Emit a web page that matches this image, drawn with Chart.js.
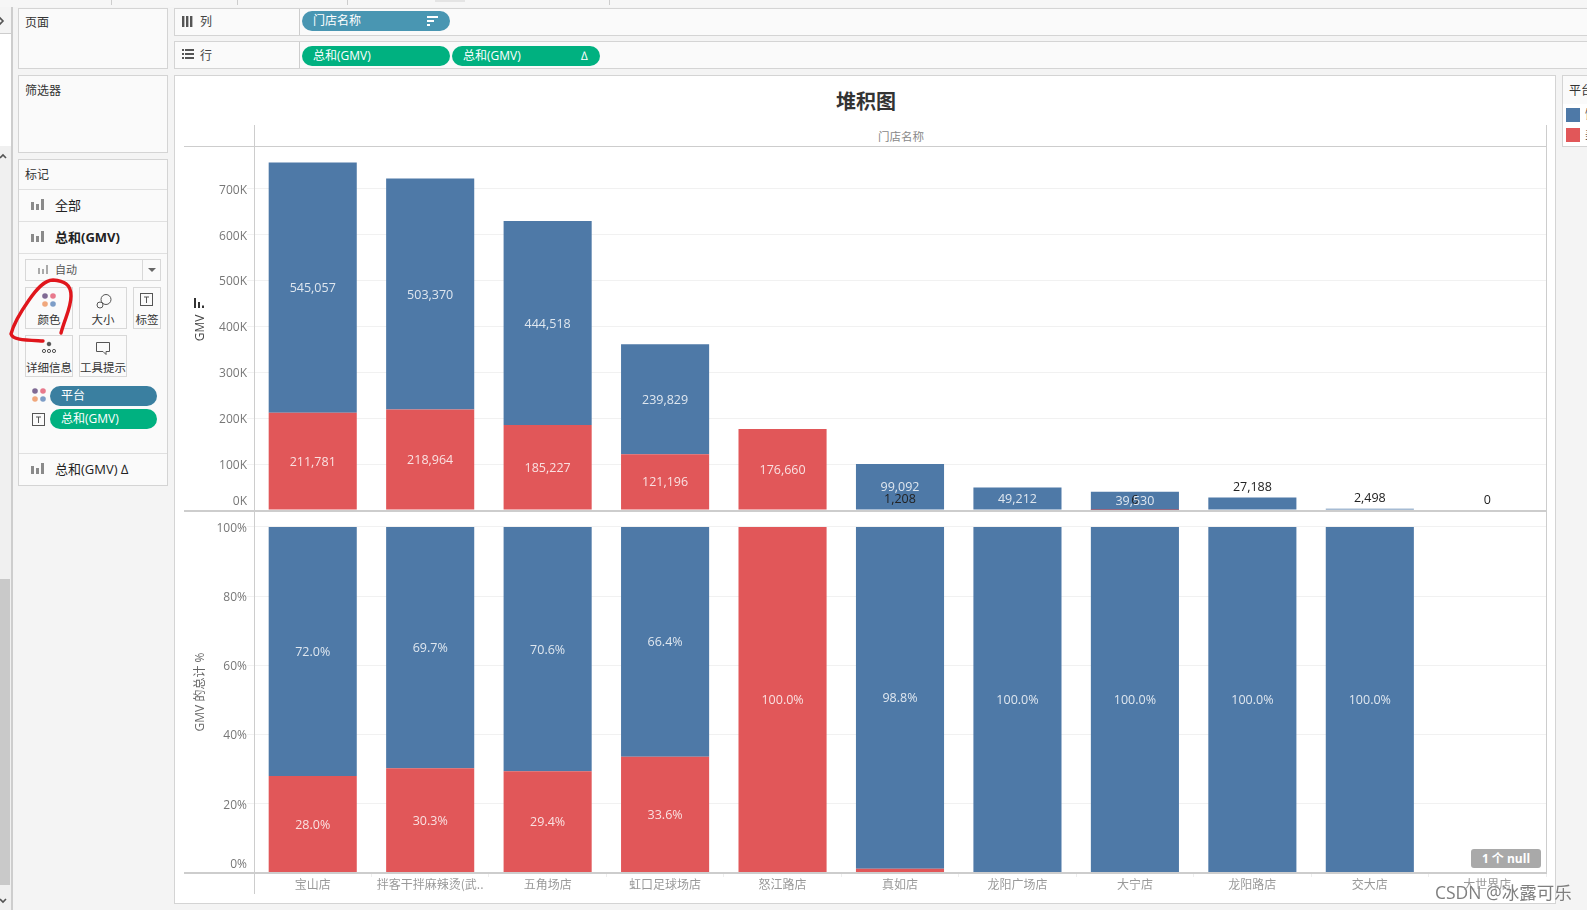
<!DOCTYPE html>
<html>
<head>
<meta charset="utf-8">
<script src="https://cdn.jsdelivr.net/npm/chart.js@4"></script>
<style>
html, body { margin: 0; width: 1587px; height: 910px; overflow: hidden; background: #f4f4f4;
    font-family: "Open Sans", "Noto Sans CJK SC", sans-serif; font-size: 12px; color: #333; }
.box { position: absolute; box-sizing: border-box; }
.panel { position: absolute; box-sizing: border-box; background: #fafafa; border: 1.5px solid #d4d4d4; }
.line { position: absolute; background: #cdcdcd; }
.txt { position: absolute; white-space: nowrap; line-height: 16px; }
.pill { position: absolute; box-sizing: border-box; height: 20px; line-height: 19px; border-radius: 10px;
    color: #fff; padding-left: 11px; white-space: nowrap; }
.btn { position: absolute; box-sizing: border-box; background: #fafafa; border: 1.5px solid #d8d8d8; text-align: center; }
.btn span { position: absolute; left: -4px; right: -4px; bottom: 1px; font-size: 11.5px; line-height: 14px; }
canvas { position: absolute; display: block; }
svg { position: absolute; overflow: visible; }
</style>
</head>
<body>
<!-- left strip -->
<div class="box" style="left:0;top:34px;width:11px;height:112px;background:#fff"></div>
<div class="box" style="left:0;top:146px;width:11px;height:764px;background:#f0f0f0"></div>
<div class="box" style="left:0;top:579px;width:10px;height:306px;background:#c9c9c9"></div>
<div class="line" style="left:11px;top:0;width:1.5px;height:910px"></div>
<div class="line" style="left:0;top:33px;width:11px;height:1px"></div>
<svg style="left:0;top:0" width="12" height="910" fill="none" stroke="#555" stroke-width="1.6">
    <path d="M-1 17l4 4 -4 4"/><path d="M0 158l3-3 3 3"/><path d="M0 899l3 3 3-3"/>
</svg>
<!-- top strip -->
<div class="box" style="left:0;top:0;width:1587px;height:7px;background:#f6f6f6"></div>
<div class="line" style="left:111px;top:0;width:1px;height:5px"></div>
<div class="line" style="left:237px;top:0;width:1px;height:5px"></div>
<div class="line" style="left:347px;top:0;width:1px;height:5px"></div>
<div class="line" style="left:609px;top:0;width:1px;height:5px"></div>
<div class="box" style="left:435px;top:0;width:30px;height:2px;background:#e4e4e4"></div>

<!-- pages / filters -->
<div class="panel" style="left:18px;top:8px;width:150px;height:61px"></div>
<div class="txt" style="left:25px;top:15px">页面</div>
<div class="panel" style="left:18px;top:75px;width:150px;height:78px"></div>
<div class="txt" style="left:25px;top:83px">筛选器</div>

<!-- marks card -->
<div class="panel" style="left:18px;top:159px;width:150px;height:327px"></div>
<div class="txt" style="left:25px;top:167px">标记</div>
<div class="line" style="left:19px;top:189px;width:148px;height:1px;background:#e0e0e0"></div>
<div class="line" style="left:19px;top:221px;width:148px;height:1px;background:#e0e0e0"></div>
<div class="line" style="left:19px;top:253px;width:148px;height:1px;background:#e0e0e0"></div>
<div class="line" style="left:19px;top:453px;width:148px;height:1px;background:#e0e0e0"></div>
<svg style="left:31px;top:199px" width="14" height="12" fill="#8a8a8a"><rect y="3" width="3" height="8"/><rect x="5" y="5" width="3" height="6"/><rect x="10" y="0" width="3" height="11"/></svg>
<svg style="left:31px;top:231px" width="14" height="12" fill="#8a8a8a"><rect y="3" width="3" height="8"/><rect x="5" y="5" width="3" height="6"/><rect x="10" y="0" width="3" height="11"/></svg>
<svg style="left:31px;top:463px" width="14" height="12" fill="#8a8a8a"><rect y="3" width="3" height="8"/><rect x="5" y="5" width="3" height="6"/><rect x="10" y="0" width="3" height="11"/></svg>
<div class="txt" style="left:55px;top:197px;font-size:13px;color:#222">全部</div>
<div class="txt" style="left:55px;top:229px;font-size:13px;font-weight:700;color:#222">总和(GMV)</div>
<div class="txt" style="left:55px;top:461px;font-size:13px;color:#222">总和(GMV) ∆</div>

<div class="btn" style="left:25px;top:259px;width:136px;height:22px"></div>
<div class="line" style="left:142px;top:260px;width:1px;height:20px;background:#d8d8d8"></div>
<svg style="left:38px;top:265px" width="10" height="10" fill="#aaa"><rect y="3" width="2" height="6"/><rect x="4" y="4" width="2" height="5"/><rect x="8" y="0" width="2" height="9"/></svg>
<div class="txt" style="left:55px;top:262px;font-size:11px;color:#555">自动</div>
<svg style="left:148px;top:268px" width="8" height="5" fill="#666"><path d="M0 0h8l-4 4z"/></svg>

<div class="btn" style="left:25px;top:287px;width:48px;height:42px"><span>颜色</span></div>
<div class="btn" style="left:79px;top:287px;width:48px;height:42px"><span>大小</span></div>
<div class="btn" style="left:133px;top:287px;width:28px;height:42px"><span>标签</span></div>
<div class="btn" style="left:25px;top:335px;width:48px;height:42px"><span>详细信息</span></div>
<div class="btn" style="left:79px;top:335px;width:48px;height:42px"><span>工具提示</span></div>
<svg style="left:42px;top:293px" width="14" height="14"><circle cx="3" cy="3" r="2.8" fill="#7f6a94"/><circle cx="11" cy="3" r="2.8" fill="#e8798c"/><circle cx="3" cy="11" r="2.8" fill="#f0a77c"/><circle cx="11" cy="11" r="2.8" fill="#7d9dc7"/></svg>
<svg style="left:96px;top:293px" width="16" height="16" fill="none" stroke="#555"><circle cx="10" cy="6.5" r="5"/><circle cx="4" cy="12" r="3" fill="#fafafa"/></svg>
<svg style="left:140px;top:293px" width="14" height="14" fill="none" stroke="#555"><rect x=".5" y=".5" width="12" height="12"/><path d="M4 4h5M6.5 4v6"/></svg>
<svg style="left:42px;top:342px" width="14" height="12" fill="none" stroke="#555"><circle cx="7" cy="2" r="1.8" fill="#555"/><circle cx="2" cy="9" r="1.6"/><circle cx="7" cy="9" r="1.6"/><circle cx="12" cy="9" r="1.6"/></svg>
<svg style="left:96px;top:342px" width="15" height="14" fill="none" stroke="#555"><path d="M.5.5h13v9h-3.5v3l-3-3h-6.5z"/></svg>

<svg style="left:32px;top:388px" width="14" height="14"><circle cx="3" cy="3" r="2.8" fill="#7f6a94"/><circle cx="11" cy="3" r="2.8" fill="#e8798c"/><circle cx="3" cy="11" r="2.8" fill="#f0a77c"/><circle cx="11" cy="11" r="2.8" fill="#7d9dc7"/></svg>
<svg style="left:32px;top:413px" width="13" height="13" fill="none" stroke="#555"><rect x=".5" y=".5" width="12" height="12"/><path d="M4 4h5M6.5 4v6"/></svg>
<div class="pill" style="left:50px;top:386px;width:107px;background:#3a7fa0">平台</div>
<div class="pill" style="left:50px;top:409px;width:107px;background:#00b180">总和(GMV)</div>

<svg style="left:0;top:150px" width="80" height="200" fill="none" stroke="#e0161c" stroke-width="3.4" stroke-linecap="round" stroke-linejoin="round">
    <path d="M61 183C65 168 71 158 71 146C71 134 64 131 53 130C44 130 36 140 29 150C22 160 14 172 11 184C13 190 24 190 43 191"/>
</svg>

<!-- shelves -->
<div class="panel" style="left:174px;top:8px;width:1420px;height:28px"></div>
<div class="panel" style="left:174px;top:41px;width:1420px;height:28px"></div>
<div class="line" style="left:299px;top:9px;width:1px;height:26px"></div>
<div class="line" style="left:299px;top:42px;width:1px;height:26px"></div>
<svg style="left:182px;top:16px" width="11" height="11" fill="#555"><rect width="2.4" height="11" y="0"/><rect x="4" width="2.4" height="11"/><rect x="8" width="2.4" height="11"/></svg>
<svg style="left:182px;top:49px" width="12" height="11" fill="#555"><rect width="2" height="2" y="0"/><rect width="2" height="2" y="4"/><rect width="2" height="2" y="8"/><rect x="3" width="9" height="2" y="0"/><rect x="3" width="9" height="2" y="4"/><rect x="3" width="9" height="2" y="8"/></svg>
<div class="txt" style="left:200px;top:14px;color:#444">列</div>
<div class="txt" style="left:200px;top:48px;color:#444">行</div>
<div class="pill" style="left:302px;top:11px;width:148px;background:#4996b2">门店名称</div>
<svg style="left:427px;top:16px" width="12" height="10" fill="#fff"><rect width="11" height="2"/><rect y="4" width="7" height="2"/><rect y="8" width="3" height="2"/></svg>
<div class="pill" style="left:302px;top:46px;width:148px;background:#00b180">总和(GMV)</div>
<div class="pill" style="left:452px;top:46px;width:148px;background:#00b180">总和(GMV)<span style="position:absolute;right:12px">∆</span></div>

<!-- chart panel -->
<div class="box" style="left:174px;top:75px;width:1382px;height:829px;background:#fff;border:1.5px solid #d4d4d4"></div>
<div class="txt" style="left:766px;top:89px;width:200px;text-align:center;font-size:20px;line-height:24px;font-weight:700;color:#333;font-family:'Noto Sans CJK SC',sans-serif">堆积图</div>
<div class="txt" style="left:801px;top:128px;width:200px;text-align:center;font-size:11.5px;color:#888;font-family:'Noto Sans CJK SC',sans-serif">门店名称</div>

<canvas id="topChart" width="1363" height="364" style="left:184px;top:146px;width:1363px;height:364px"></canvas>
<canvas id="bottomChart" width="1363" height="392" style="left:184px;top:511px;width:1363px;height:392px"></canvas>

<div class="line" style="left:254px;top:125px;width:1px;height:769px"></div>
<div class="line" style="left:1546px;top:125px;width:1px;height:748px"></div>
<div class="line" style="left:184px;top:146px;width:1363px;height:1px"></div>
<div class="line" style="left:184px;top:510px;width:1363px;height:1.5px"></div>
<div class="line" style="left:184px;top:872px;width:1363px;height:1.5px"></div>
<svg style="left:194px;top:298px" width="10" height="10" fill="#333"><rect width="2" height="10"/><rect x="4" y="4" width="2" height="6"/><rect x="8" y="7.5" width="2" height="2.5"/></svg>

<div class="box" style="left:1471px;top:849px;width:70px;height:19px;background:#a9a9a9;border-radius:3px;color:#fff;font-weight:700;text-align:center;line-height:19px">1 个 null</div>
<div class="txt" style="left:1435px;top:882px;font-size:17.5px;line-height:20px;color:#7f7f7f;text-shadow:0 0 2px #fff">CSDN @冰露可乐</div>

<!-- legend, cut off by the window edge -->
<div class="panel" style="left:1562px;top:75px;width:40px;height:72px"></div>
<div class="txt" style="left:1569px;top:83px;color:#333">平台</div>
<div class="box" style="left:1563px;top:104px;width:30px;height:42px;background:#fff"></div>
<div class="box" style="left:1566px;top:108px;width:14px;height:14px;background:#4e79a7"></div>
<div class="box" style="left:1566px;top:128px;width:14px;height:14px;background:#e15759"></div>
<div class="txt" style="left:1585px;top:107px;color:#555">饿了么</div>
<div class="txt" style="left:1585px;top:127px;color:#555">美团</div>

<script>
const stores = ['宝山店', '拌客干拌麻辣烫(武..', '五角场店', '虹口足球场店', '怒江路店', '真如店', '龙阳广场店', '大宁店', '龙阳路店', '交大店', '大世界店'];
const platforms = ['饿了么', '美团'];

const gmvBlue = [545057, 503370, 444518, 239829, null, 99092, 49212, 39530, 27188, 2498, 0];
const gmvRed = [211781, 218964, 185227, 121196, 176660, 1208, null, 6, null, null, null];

const pctBlue = [72.0, 69.7, 70.6, 66.4, null, 98.8, 100, 100, 100, 100, null];
const pctRed = [28.0, 30.3, 29.4, 33.6, 100, 1.2, null, null, null, null, null];

const gmvTicks = [0, 100000, 200000, 300000, 400000, 500000, 600000, 700000];
const pctTicks = [0, 20, 40, 60, 80, 100];

const BLUE = '#4e79a7';
const RED = '#e15759';
const FONT = '"Open Sans", "Noto Sans CJK SC", sans-serif';

// labels sit in the middle of a bar, or above it in dark text if the bar is too thin
const barLabels = {
    id: 'barLabels',
    afterDatasetsDraw(chart, args, opts) {
        const ctx = chart.ctx;
        ctx.save();
        ctx.font = '12.5px ' + FONT;
        ctx.textAlign = 'center';
        ctx.textBaseline = 'middle';
        chart.data.datasets.forEach((ds, i) => {
            chart.getDatasetMeta(i).data.forEach((bar, j) => {
                const v = ds.data[j];
                if (v === null) return;
                const text = opts.format(v);
                if (Math.abs(bar.base - bar.y) >= 14) {
                    ctx.fillStyle = 'rgba(255,255,255,0.82)';
                    ctx.fillText(text, bar.x, (bar.y + bar.base) / 2 + 1);
                } else if (opts.showThin) {
                    ctx.fillStyle = '#222';
                    ctx.fillText(text, bar.x, bar.y - 10);
                }
            });
        });
        // the zero tick label is lifted clear of the pane's base line
        const y = chart.scales.y;
        ctx.font = '12px ' + FONT;
        ctx.textAlign = 'right';
        ctx.fillStyle = '#777777';
        ctx.fillText(y.options.ticks.callback(0, 0, [], true), y.right - 7, y.getPixelForValue(0) - 8);
        ctx.restore();
    }
};

function buildOptions(yMax, yTicks, tickFormat, yTitle, titleColor, labelFormat, showThin, showX) {
    return {
        responsive: false,
        animation: false,
        devicePixelRatio: 1,
        layout: { padding: { right: 1 } },
        plugins: {
            legend: { display: false },
            tooltip: { enabled: false },
            barLabels: { format: labelFormat, showThin: showThin }
        },
        scales: {
            x: {
                stacked: true,
                display: showX,
                afterFit: (s) => { s.height = showX ? 30 : 0; s.paddingLeft = 0; s.paddingRight = 0; },
                border: { display: false },
                grid: { offset: true, drawOnChartArea: false, color: '#eeeeee', tickLength: 4 },
                ticks: {
                    color: '#999999',
                    padding: 0,
                    maxRotation: 0,
                    autoSkip: false,
                    font: { size: 12, family: '"Noto Sans CJK SC", sans-serif' }
                }
            },
            y: {
                stacked: true,
                min: 0,
                max: yMax,
                afterFit: (s) => { s.width = 70; s.paddingTop = 0; s.paddingBottom = 0; },
                afterBuildTicks: (s) => { s.ticks = yTicks.map((value) => ({ value })); },
                border: { display: false },
                grid: { color: '#f1f1f1', tickLength: 7 },
                title: {
                    display: true,
                    text: yTitle,
                    color: titleColor,
                    padding: { top: 9, bottom: 0 },
                    font: { size: 12, family: FONT }
                },
                ticks: {
                    padding: 0,
                    labelOffset: 1.5,
                    color: '#777777',
                    font: { size: 12, family: FONT },
                    // the zero label is drawn by barLabels
                    callback: (v, i, t, raw) => (v === 0 && !raw ? '' : tickFormat(v))
                }
            }
        }
    };
}

function drawPane(canvas, red, blue, options) {
    const ctx = document.getElementById(canvas).getContext('2d');
    return new Chart(ctx, {
        type: 'bar',
        plugins: [barLabels],
        data: {
            labels: stores,
            datasets: [
                { label: platforms[1], data: red, backgroundColor: RED, categoryPercentage: 1, barPercentage: 0.75 },
                { label: platforms[0], data: blue, backgroundColor: BLUE, categoryPercentage: 1, barPercentage: 0.75 }
            ]
        },
        options: options
    });
}

drawPane('topChart', gmvRed, gmvBlue, buildOptions(793000, gmvTicks,
    (v) => (v / 1000) + 'K', 'GMV', '#444444',
    (v) => v.toLocaleString('en-US'), true, false));

drawPane('bottomChart', pctRed, pctBlue, buildOptions(104.6, pctTicks,
    (v) => v + '%', 'GMV 的总计 %', '#666666',
    (v) => v.toFixed(1) + '%', false, true));
</script>
</body>
</html>
